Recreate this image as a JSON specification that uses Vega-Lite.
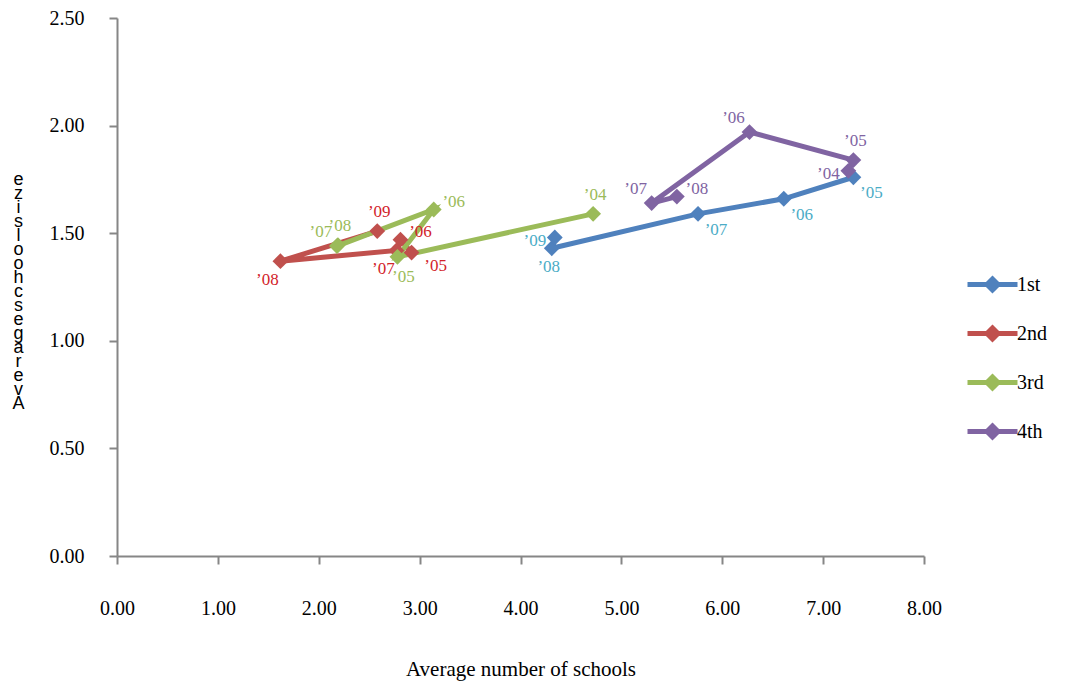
{
  "$schema": "https://vega.github.io/schema/vega-lite/v6.json",
  "width": 807,
  "height": 538,
  "autosize": {"type": "none"},
  "padding": {"left": 117, "top": 18, "right": 141, "bottom": 131},
  "background": "white",
  "config": {"view": {"stroke": null}, "font": "Liberation Serif"},
  "data": {
    "values": [
      {"series": "1st", "year": "’05", "x": 7.30, "y": 1.76},
      {"series": "1st", "year": "’06", "x": 6.61, "y": 1.66},
      {"series": "1st", "year": "’07", "x": 5.76, "y": 1.59},
      {"series": "1st", "year": "’08", "x": 4.31, "y": 1.43},
      {"series": "1st", "year": "’09", "x": 4.34, "y": 1.48},
      {"series": "2nd", "year": "’05", "x": 2.92, "y": 1.41},
      {"series": "2nd", "year": "’06", "x": 2.81, "y": 1.47},
      {"series": "2nd", "year": "’07", "x": 2.77, "y": 1.42},
      {"series": "2nd", "year": "’08", "x": 1.62, "y": 1.37},
      {"series": "2nd", "year": "’09", "x": 2.58, "y": 1.51},
      {"series": "3rd", "year": "’04", "x": 4.72, "y": 1.59},
      {"series": "3rd", "year": "’05", "x": 2.78, "y": 1.39},
      {"series": "3rd", "year": "’06", "x": 3.14, "y": 1.61},
      {"series": "3rd", "year": "’07", "x": 2.18, "y": 1.44},
      {"series": "3rd", "year": "’08", "x": 2.19, "y": 1.445},
      {"series": "4th", "year": "’04", "x": 7.25, "y": 1.79},
      {"series": "4th", "year": "’05", "x": 7.30, "y": 1.84},
      {"series": "4th", "year": "’06", "x": 6.27, "y": 1.97},
      {"series": "4th", "year": "’07", "x": 5.30, "y": 1.64},
      {"series": "4th", "year": "’08", "x": 5.55, "y": 1.67}
    ]
  },
  "encoding": {
    "x": {
      "field": "x", "type": "quantitative",
      "scale": {"domain": [0, 8], "nice": false, "zero": false},
      "axis": {
        "title": "Average number of schools",
        "values": [0, 1, 2, 3, 4, 5, 6, 7, 8],
        "format": ".2f", "grid": false,
        "domainColor": "#868686", "domainWidth": 2,
        "tickColor": "#868686", "tickWidth": 2, "tickSize": 8,
        "labelFont": "Liberation Serif", "labelFontSize": 20, "labelColor": "black",
        "labelPadding": 34, "labelFlush": false,
        "titleFont": "Liberation Serif", "titleFontSize": 21, "titleFontWeight": "normal",
        "titleColor": "black", "titlePadding": 40
      }
    },
    "y": {
      "field": "y", "type": "quantitative",
      "scale": {"domain": [0, 2.5], "nice": false, "zero": false},
      "axis": {
        "title": ["e","z","i","s"," ","l","o","o","h","c","s"," ","e","g","a","r","e","v","A"],
        "values": [0, 0.5, 1, 1.5, 2, 2.5],
        "format": ".2f", "grid": false,
        "domainColor": "#868686", "domainWidth": 2,
        "tickColor": "#868686", "tickWidth": 2, "tickSize": 8,
        "labelFont": "Liberation Serif", "labelFontSize": 20, "labelColor": "black",
        "labelPadding": 25, "labelFlush": false,
        "titleAngle": 0, "titleX": -99, "titleY": 161,
        "titleAlign": "center", "titleBaseline": "middle",
        "titleFont": "Liberation Sans", "titleFontSize": 18, "titleFontWeight": "normal",
        "titleColor": "black", "titleLineHeight": 14
      }
    }
  },
  "layer": [
    {
      "mark": {"type": "line", "strokeWidth": 5},
      "encoding": {
        "color": {
          "field": "series", "type": "nominal",
          "scale": {"domain": ["1st", "2nd", "3rd", "4th"], "range": ["#4F81BD", "#C0504D", "#9BBB59", "#8064A2"]},
          "legend": {
            "title": null, "orient": "none", "legendX": 848, "legendY": 239,
            "symbolType": "M-1,0H1M0,-0.22L0.22,0L0,0.22L-0.22,0Z",
            "symbolSize": 2500, "symbolStrokeWidth": 5,
            "labelFont": "Liberation Serif", "labelFontSize": 20, "labelColor": "black",
            "labelOffset": -3, "rowPadding": 6, "padding": 0,
            "encode": {"symbols": {"update": {"fill": {"scale": "color", "field": "value"}, "opacity": {"value": 1}}}}
          }
        },
        "order": {"field": "year", "type": "ordinal"}
      }
    },
    {
      "mark": {"type": "point", "shape": "diamond", "filled": true, "size": 250, "opacity": 1},
      "encoding": {
        "color": {"field": "series", "type": "nominal", "legend": null}
      }
    },
    {
      "transform": [{"filter": "indexof(['1st’07','1st’06','1st’05'], datum.series + datum.year) >= 0"}],
      "mark": {"type": "text", "dx": 18, "dy": 16, "fontSize": 17, "font": "Liberation Serif"},
      "encoding": {"text": {"field": "year"}, "fill": {"field": "series", "type": "nominal", "scale": {"domain": ["1st", "2nd", "3rd", "4th"], "range": ["#4BACC6", "#D2232A", "#9BBB59", "#8064A2"]}, "legend": null}}
    },
    {
      "transform": [{"filter": "indexof(['2nd’05'], datum.series + datum.year) >= 0"}],
      "mark": {"type": "text", "dx": 24, "dy": 13, "fontSize": 17, "font": "Liberation Serif"},
      "encoding": {"text": {"field": "year"}, "fill": {"field": "series", "type": "nominal", "legend": null}}
    },
    {
      "transform": [{"filter": "indexof(['1st’08'], datum.series + datum.year) >= 0"}],
      "mark": {"type": "text", "dx": -3, "dy": 19, "fontSize": 17, "font": "Liberation Serif"},
      "encoding": {"text": {"field": "year"}, "fill": {"field": "series", "type": "nominal", "legend": null}}
    },
    {
      "transform": [{"filter": "indexof(['3rd’05'], datum.series + datum.year) >= 0"}],
      "mark": {"type": "text", "dx": 6, "dy": 20, "fontSize": 17, "font": "Liberation Serif"},
      "encoding": {"text": {"field": "year"}, "fill": {"field": "series", "type": "nominal", "legend": null}}
    },
    {
      "transform": [{"filter": "indexof(['2nd’08','2nd’07'], datum.series + datum.year) >= 0"}],
      "mark": {"type": "text", "dx": -13, "dy": 19, "fontSize": 17, "font": "Liberation Serif"},
      "encoding": {"text": {"field": "year"}, "fill": {"field": "series", "type": "nominal", "legend": null}}
    },
    {
      "transform": [{"filter": "indexof(['1st’09','4th’04'], datum.series + datum.year) >= 0"}],
      "mark": {"type": "text", "dx": -20, "dy": 3, "fontSize": 17, "font": "Liberation Serif"},
      "encoding": {"text": {"field": "year"}, "fill": {"field": "series", "type": "nominal", "legend": null}}
    },
    {
      "transform": [{"filter": "indexof(['2nd’09','3rd’04','3rd’08','4th’05'], datum.series + datum.year) >= 0"}],
      "mark": {"type": "text", "dx": 2, "dy": -19, "fontSize": 17, "font": "Liberation Serif"},
      "encoding": {"text": {"field": "year"}, "fill": {"field": "series", "type": "nominal", "legend": null}}
    },
    {
      "transform": [{"filter": "indexof(['3rd’07','4th’06','4th’07'], datum.series + datum.year) >= 0"}],
      "mark": {"type": "text", "dx": -16, "dy": -14, "fontSize": 17, "font": "Liberation Serif"},
      "encoding": {"text": {"field": "year"}, "fill": {"field": "series", "type": "nominal", "legend": null}}
    },
    {
      "transform": [{"filter": "indexof(['2nd’06','3rd’06','4th’08'], datum.series + datum.year) >= 0"}],
      "mark": {"type": "text", "dx": 20, "dy": -8, "fontSize": 17, "font": "Liberation Serif"},
      "encoding": {"text": {"field": "year"}, "fill": {"field": "series", "type": "nominal", "legend": null}}
    }
  ]
}
